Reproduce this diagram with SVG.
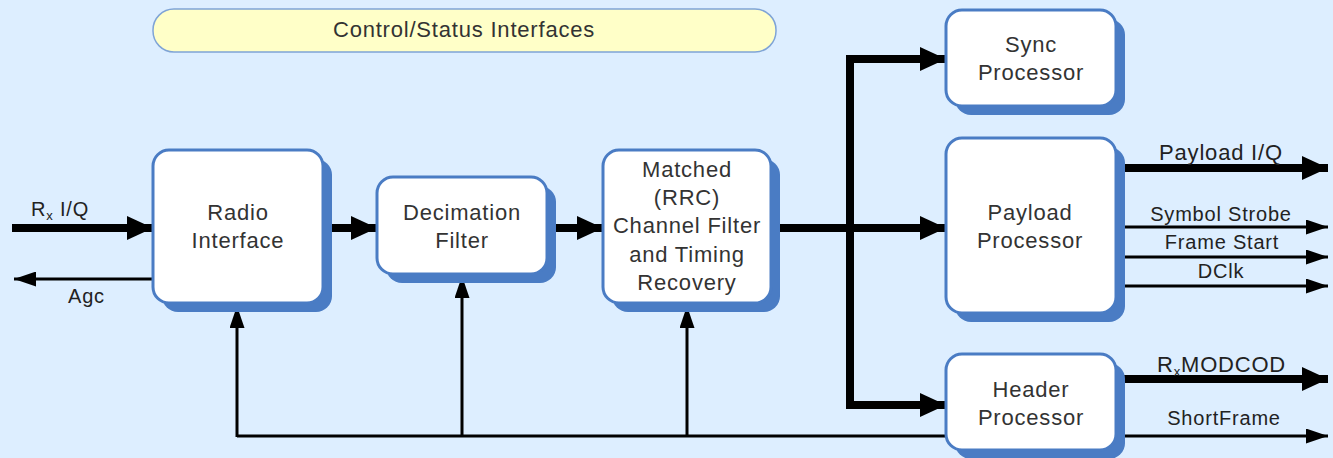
<svg xmlns="http://www.w3.org/2000/svg" width="1333" height="458" viewBox="0 0 1333 458">
<style>
.bg{fill:#ddeeff}
.sh{fill:#4a7cc4}
.bx{fill:#ffffff;stroke:#4a7cc4;stroke-width:3}
.t{font-family:"Liberation Sans",Arial,sans-serif;font-size:22px;letter-spacing:0.8px;fill:#333;text-anchor:middle}
.l{font-family:"Liberation Sans",Arial,sans-serif;font-size:20px;letter-spacing:0.8px;fill:#222;text-anchor:middle}
.thick{stroke:#000;stroke-width:8;fill:none;marker-end:url(#ah)}
.thin{stroke:#000;stroke-width:3;fill:none;marker-end:url(#at)}
.plain{stroke:#000;stroke-width:3;fill:none}
</style>
<defs>
<marker id="ah" markerUnits="userSpaceOnUse" markerWidth="26" markerHeight="24" refX="26" refY="12" orient="auto"><path d="M0,0 L26,12 L0,24 z" fill="#000"/></marker>
<marker id="at" markerUnits="userSpaceOnUse" markerWidth="22" markerHeight="15" refX="22" refY="7.5" orient="auto"><path d="M0,0 L22,7.5 L0,15 z" fill="#000"/></marker>
</defs>
<rect class="bg" x="0" y="0" width="1333" height="458"/>

<g id="connectors">
<path class="thick" d="M12,228 H153"/>
<path class="thin" d="M153,279 H14"/>
<path class="thick" d="M323,228 H377"/>
<path class="thick" d="M548,228 H603"/>
<path class="thick" d="M772,228 H946"/>
<path class="thick" d="M850,232 V59 H946"/>
<path class="thick" d="M850,224 V405 H946"/>
<path class="thick" d="M1116,168 H1328"/>
<path class="thin" d="M1122,227 H1328"/>
<path class="thin" d="M1116,257 H1328"/>
<path class="thin" d="M1116,286 H1328"/>
<path class="thick" d="M1116,379 H1328"/>
<path class="thin" d="M1116,436 H1328"/>
<path class="plain" d="M946,436 H237"/>
<path class="thin" d="M237,437 V306"/>
<path class="thin" d="M462,437 V276"/>
<path class="thin" d="M687,437 V306"/>
<text class="l" x="31" y="216" style="text-anchor:start">R<tspan font-size="13" dy="4">x</tspan><tspan dy="-4"> I/Q</tspan></text>
<text class="l" x="68" y="303" style="text-anchor:start">Agc</text>
<text class="l" x="1221" y="160" style="font-size:22px">Payload I/Q</text>
<text class="l" x="1221" y="221">Symbol Strobe</text>
<text class="l" x="1222" y="249">Frame Start</text>
<text class="l" x="1221" y="278">DClk</text>
<text class="l" x="1157" y="372" style="font-size:22px;text-anchor:start">R<tspan font-size="13" dy="4">x</tspan><tspan dy="-4">MODCOD</tspan></text>
<text class="l" x="1224" y="425">ShortFrame</text>
</g>

<g id="control">
<rect x="153" y="9" width="623" height="43" rx="21" fill="#ffffc8" stroke="#7fa4d6" stroke-width="1.5"/>
<text class="t" x="464" y="37">Control/Status Interfaces</text>
</g>

<g id="radio">
<rect class="sh" x="162" y="159" width="170" height="153" rx="16"/>
<rect class="bx" x="153" y="150" width="170" height="153" rx="16"/>
<text class="t" x="238" y="220">Radio</text>
<text class="t" x="238" y="248">Interface</text>
</g>

<g id="decimation">
<rect class="sh" x="386" y="186" width="170" height="97" rx="16"/>
<rect class="bx" x="377" y="177" width="170" height="97" rx="16"/>
<text class="t" x="462" y="220">Decimation</text>
<text class="t" x="462" y="248">Filter</text>
</g>

<g id="matched">
<rect class="sh" x="612" y="159" width="168" height="153" rx="16"/>
<rect class="bx" x="603" y="150" width="168" height="153" rx="16"/>
<text class="t" x="687" y="177">Matched</text>
<text class="t" x="687" y="205">(RRC)</text>
<text class="t" x="687" y="233">Channel Filter</text>
<text class="t" x="687" y="262">and Timing</text>
<text class="t" x="687" y="290">Recovery</text>
</g>

<g id="sync">
<rect class="sh" x="955" y="19" width="170" height="96" rx="16"/>
<rect class="bx" x="946" y="10" width="170" height="96" rx="16"/>
<text class="t" x="1031" y="52">Sync</text>
<text class="t" x="1031" y="80">Processor</text>
</g>

<g id="payload">
<rect class="sh" x="955" y="147" width="170" height="175" rx="16"/>
<rect class="bx" x="946" y="138" width="170" height="175" rx="16"/>
<text class="t" x="1030" y="220">Payload</text>
<text class="t" x="1030" y="248">Processor</text>
</g>

<g id="header">
<rect class="sh" x="955" y="363" width="170" height="96" rx="16"/>
<rect class="bx" x="946" y="354" width="170" height="96" rx="16"/>
<text class="t" x="1031" y="397">Header</text>
<text class="t" x="1031" y="425">Processor</text>
</g>
</svg>
